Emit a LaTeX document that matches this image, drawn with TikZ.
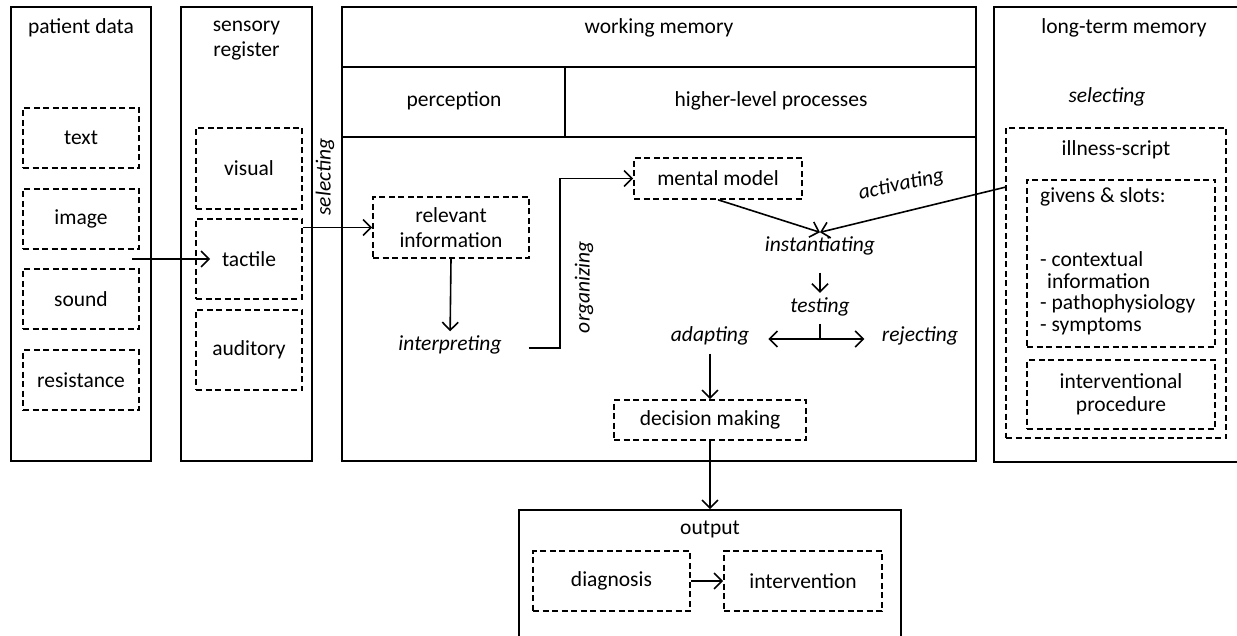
\documentclass[tikz,border=0pt]{standalone}
\usepackage{fontspec}
\setmainfont{Carlito}
\usetikzlibrary{arrows.meta,calc}
\newcommand\myfs{\fontsize{21.5pt}{25pt}\selectfont}
\tikzset{
  solidbox/.style={draw, line width=1.7pt, inner sep=0pt},
  dbox/.style={draw, line width=1.6pt, dash pattern=on 6pt off 3.5pt, inner sep=0pt, align=center},
  ttl/.style={inner sep=0pt, align=center},
  lbl/.style={font=\myfs\itshape, inner sep=2pt, text height=0.7em, text depth=0.2em},
  arr/.style={line width=1.6pt, -{Straight Barb[length=8pt,width=16pt,line width=1.6pt]}},
  arrtwo/.style={line width=1.6pt, {Straight Barb[length=8pt,width=16pt,line width=1.6pt]}-{Straight Barb[length=8pt,width=16pt,line width=1.6pt]}},
  plain/.style={line width=1.7pt}
}
\begin{document}
\begin{tikzpicture}[x=1pt,y=-1pt,font=\myfs]
\useasboundingbox (0,0) rectangle (1237,636);
\clip (0,0) rectangle (1237,636);

% patient data
\node[solidbox, minimum width=140pt, minimum height=454pt] (pd) at (81,234) {};
\node[ttl] (pdt) at (81,28) {patient data};
\node[dbox, minimum width=116pt, minimum height=60pt] (text) at (81,138) {text};
\node[dbox, minimum width=116pt, minimum height=60pt] (image) at (81,219) {image};
\node[dbox, minimum width=116pt, minimum height=60pt] (sound) at (81,299) {sound};
\node[dbox, minimum width=116pt, minimum height=60pt] (resist) at (81,380) {resistance};

% sensory register
\node[solidbox, minimum width=131pt, minimum height=454pt] (sr) at (246.5,234) {};
\node[ttl] (srt) at (246.5,40.5) {sensory\\register};
\node[dbox, minimum width=106pt, minimum height=81pt] (visual) at (249,168.5) {visual};
\node[dbox, minimum width=106pt, minimum height=80pt] (tactile) at (249,259) {tactile};
\node[dbox, minimum width=106pt, minimum height=80pt] (auditory) at (249,350) {auditory};
\coordinate (pdout) at (132,259);
\draw[arr] (pdout) -- ([xshift=15pt]tactile.west);

% working memory
\node[solidbox, minimum width=634pt, minimum height=454pt] (wm) at (659,234) {};
\node[ttl] (wmt) at (659,28) {working memory};
\draw[plain] ($(wm.north west)+(0,61)$) -- ($(wm.north east)+(0,61)$);
\draw[plain] ($(wm.north west)+(0,131)$) -- ($(wm.north east)+(0,131)$);
\draw[plain] ($(wm.north west)+(224,61)$) -- ($(wm.north west)+(224,131)$);
\node[ttl] (perc) at (454,101) {perception};
\node[ttl] (hlp) at (771,101) {higher-level processes};

\node[dbox, minimum width=156pt, minimum height=61pt] (relinfo) at (451,227.5) {relevant\\information};
\draw[arr] (tactile.east |- relinfo.west) -- (relinfo.west);
\node[lbl, rotate=90] (sel) at (328,177) {selecting};

\node[lbl] (interp) at (450,348) {interpreting};
\draw[arr, shorten >=10pt] (relinfo.south) -- (interp.north);

\node[dbox, minimum width=168pt, minimum height=41pt] (mm) at (718,178.5) {mental model};
\draw[arr] ([xshift=25pt]interp.east) -- ++(31,0) |- (mm.west);
\node[lbl, rotate=90] (org) at (587,287) {organizing};

\node[lbl] (inst) at (820,249) {instantiating};
\coordinate (conv) at ($(inst.north)+(0,-10)$);
\draw[arr] (mm.south) -- (conv);

\node[lbl] (test) at (820,310) {testing};
\draw[arr, shorten <=17pt, shorten >=10.5pt] (inst.south) -- (test.north);
\node[lbl] (adapt) at (710,339) {adapting};
\node[lbl] (rej) at (920,339) {rejecting};
\draw[arrtwo, shorten <=17pt, shorten >=15.5pt] (adapt.east) -- (rej.west);
\draw[plain] ([yshift=-7pt]test.south) -- (test.south |- adapt.center);

\node[dbox, minimum width=192pt, minimum height=40pt] (dm) at (710,420) {decision making};
\draw[arr, shorten <=8pt] (adapt.south) -- (dm.north);

% output
\node[solidbox, minimum width=382pt, minimum height=150pt] (out) at (710,585) {};
\node[ttl] (outt) at (710,529) {output};
\draw[arr] (dm.south) -- (out.north);
\node[dbox, minimum width=157pt, minimum height=60pt] (diag) at (611.5,581) {diagnosis};
\node[dbox, minimum width=158pt, minimum height=60pt] (interv) at (803,581) {intervention};
\draw[arr] (diag.east) -- (interv.west);

% long-term memory
\node[solidbox, minimum width=260pt, minimum height=455pt] (ltm) at (1124,234.5) {};
\node[ttl] (ltmt) at (1124,28) {long-term memory};
\node[lbl] (sel2) at (1107,100) {selecting};
\node[dbox, minimum width=220pt, minimum height=310pt] (is) at (1116,283) {};
\node[ttl] (ist) at (1116,150) {illness-script};
\node[dbox, minimum width=188pt, minimum height=167pt] (gs) at (1121,263.5) {};
\node[anchor=north west, align=left, inner sep=0pt, font=\fontsize{21.5pt}{21.5pt}\selectfont] (gst) at (1040,187) {givens \& slots:\\[43pt]- contextual\\\hspace*{7pt}information\\- pathophysiology\\- symptoms};
\node[dbox, minimum width=188pt, minimum height=69pt, font=\fontsize{21.5pt}{23pt}\selectfont] (ip) at (1121,394.5) {interventional\\procedure};
\draw[arr] ($(is.north west)+(0,60)$) -- (conv);
\node[lbl, rotate=12] (act) at (902,188) {activating};
\end{tikzpicture}
\end{document}
